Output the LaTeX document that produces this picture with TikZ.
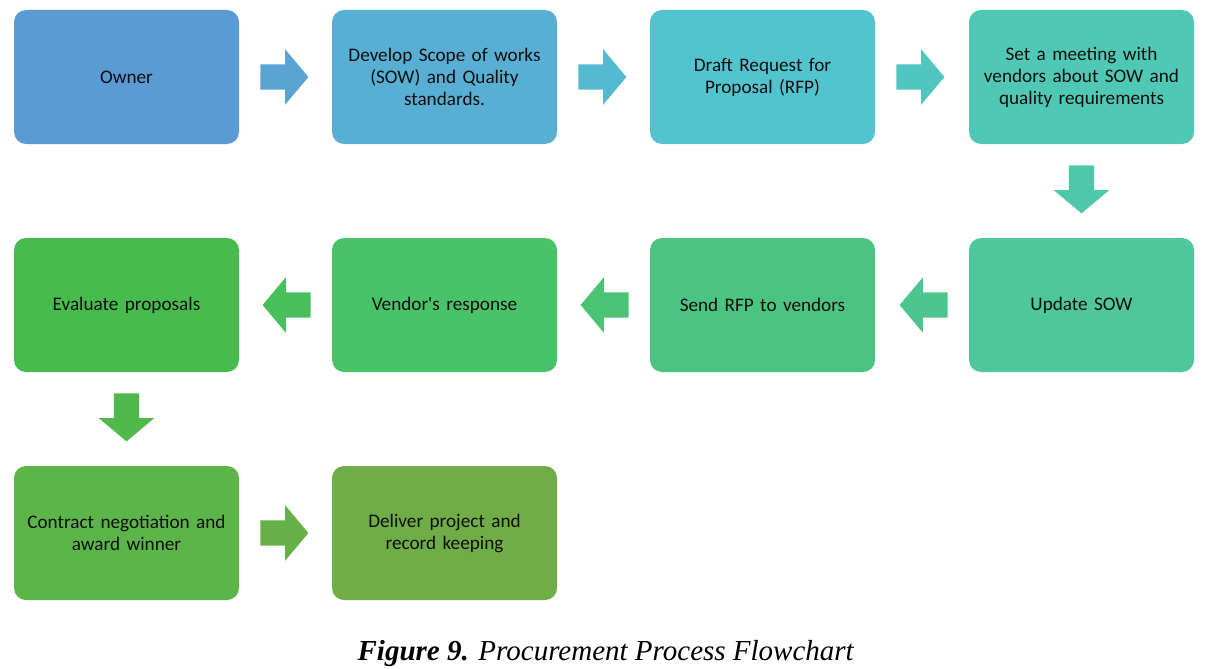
\documentclass[tikz,border=0pt]{standalone}
\usepackage{fontspec}
\setmainfont{Carlito}[Ligatures=TeXOff]
\newfontfamily\capfont{Liberation Serif}
\usetikzlibrary{shapes.arrows,calc}
\definecolor{c1}{RGB}{91,155,213}
\definecolor{c2}{RGB}{88,175,211}
\definecolor{c3}{RGB}{82,196,206}
\definecolor{c4}{RGB}{79,201,181}
\definecolor{c5}{RGB}{78,199,156}
\definecolor{c6}{RGB}{76,196,129}
\definecolor{c7}{RGB}{73,195,104}
\definecolor{c8}{RGB}{72,187,78}
\definecolor{c9}{RGB}{91,181,72}
\definecolor{c10}{RGB}{112,173,71}
\definecolor{txt}{RGB}{15,15,15}
\tikzset{
  box/.style={draw=none, rounded corners=12pt, minimum width=225pt, minimum height=134pt,
    inner sep=0pt, align=center, text width=215pt, font=\fontsize{19.2}{22}\selectfont, text=txt},
  blockarrow/.style={single arrow, draw=none, minimum height=48pt, minimum width=55pt,
    inner xsep=0pt, inner ysep=12.5pt, single arrow head extend=15pt,
    single arrow tip angle=100}
}
\begin{document}
\begin{tikzpicture}[x=1pt,y=-1pt]
\useasboundingbox[fill=white] (0,0) rectangle (1205,669);
% row 1
\node[box, fill=c1] (b1) at (126.5,77) {Owner};
\node[box, fill=c2] (b2) at (444.5,77) {Develop Scope of works\\(SOW) and Quality\\standards.};
\node[box, fill=c3] (b3) at (762.5,77) {Draft Request for\\Proposal (RFP)};
\node[box, fill=c4] (b4) at (1081.5,77) {Set a meeting with\\vendors about SOW and\\quality requirements};
% row 2
\node[box, fill=c5] (b5) at (1081.5,305) {Update SOW};
\node[box, fill=c6] (b6) at (762.5,305) {Send RFP to vendors};
\node[box, fill=c7] (b7) at (444.5,305) {Vendor's response};
\node[box, fill=c8] (b8) at (126.5,305) {Evaluate proposals};
% row 3
\node[box, fill=c9] (b9) at (126.5,533) {Contract negotiation and\\award winner};
\node[box, fill=c10] (b10) at (444.5,533) {Deliver project and\\record keeping};
% arrows
\node[blockarrow, fill=c1!55!c2, anchor=tail] (a1) at ([xshift=21pt]b1.east) {};
\node[blockarrow, fill=c2!50!c3, anchor=tail] (a2) at ([xshift=21pt]b2.east) {};
\node[blockarrow, fill=c3!50!c4, anchor=tail] (a3) at ([xshift=21pt]b3.east) {};
\node[blockarrow, fill=c4!50!c5, rotate=-90, anchor=tail] (a4) at ([yshift=-21pt]b4.south) {};
\node[blockarrow, fill=c5!50!c6, rotate=180, anchor=tail] (a5) at ([xshift=-21pt]b5.west) {};
\node[blockarrow, fill=c6!50!c7, rotate=180, anchor=tail] (a6) at ([xshift=-21pt]b6.west) {};
\node[blockarrow, fill=c7!50!c8, rotate=180, anchor=tail] (a7) at ([xshift=-21pt]b7.west) {};
\node[blockarrow, fill=c8!50!c9, rotate=-90, anchor=tail] (a8) at ([yshift=-21pt]b8.south) {};
\node[blockarrow, fill=c9!50!c10, anchor=tail] (a9) at ([xshift=21pt]b9.east) {};
% caption
\node[font=\capfont\fontsize{29}{32}\selectfont, inner sep=0pt, anchor=base] (cap) at (606,660)
  {\textbf{\textit{Figure 9.}} \textit{Procurement Process Flowchart}};
\end{tikzpicture}
\end{document}
